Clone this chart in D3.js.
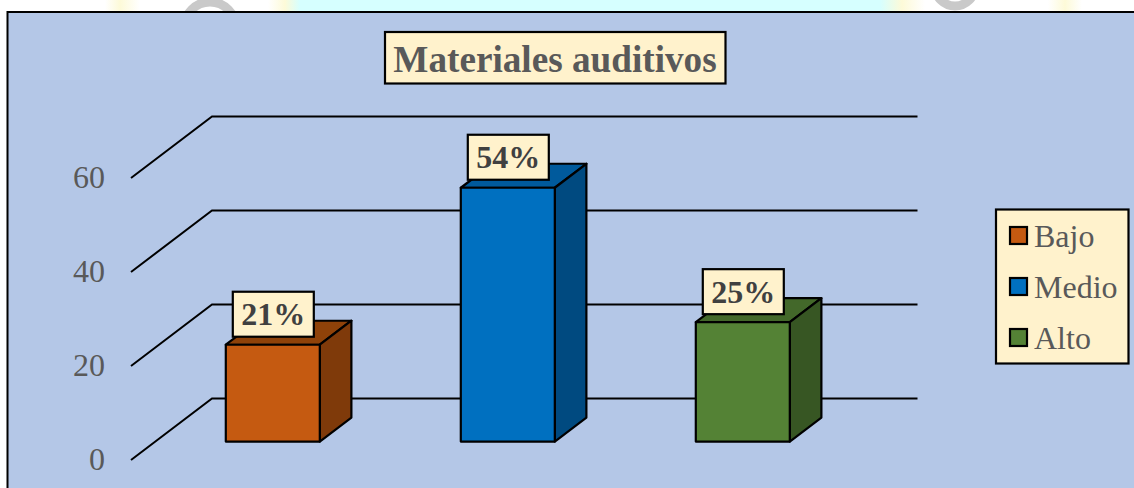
<!DOCTYPE html>
<html>
<head>
<meta charset="utf-8">
<script src="https://cdn.jsdelivr.net/npm/d3@7"></script>
<style>
  html, body { margin: 0; padding: 0; background: #fff; overflow: hidden; }
  svg { display: block; }
  text { font-family: "Liberation Serif", serif; }
</style>
</head>
<body>
<svg id="chart" width="1134" height="488"></svg>
<script>
const title = "Materiales auditivos";
const categories = ["Bajo", "Medio", "Alto"];
const values = [20.6, 54, 25.4];
const valueLabels = ["21%", "54%", "25%"];
const frontColors = ["#C55A11", "#0070C0", "#548235"];
const topColors = ["#8F4209", "#005A9C", "#43682A"];
const sideColors = ["#7F3A0A", "#004A80", "#375623"];
const yTicks = [0, 20, 40, 60];

let svg = d3.select("#chart");

// depth of the fake 3d floor
const depthX = 81;
const depthY = 61.5;
const barZ0 = 0.3;
const barZ1 = 0.69;

let x = d3.scaleBand()
  .domain(categories)
  .range([131, 836])
  .paddingInner(0.6)
  .paddingOuter(0.3);

let y = d3.scaleLinear()
  .domain([0, 60])
  .range([460, 178]);

let project = function(px, value, z) {
  return [px + z * depthX, y(value) - z * depthY];
};

let path = d3.line();

// page behind the chart, only a strip of it shows above the border
let defs = svg.append("defs");
let strip = defs.append("linearGradient").attr("id", "strip");
[[0, "#ffffff"], [105, "#ffffff"], [120, "#fdfad8"], [140, "#ffffff"], [268, "#ffffff"], [285, "#fdfad8"],
 [300, "#d6ffff"], [880, "#d6ffff"], [902, "#fdfad8"], [925, "#ffffff"], [1048, "#ffffff"], [1065, "#fdfad8"],
 [1082, "#ffffff"], [1134, "#ffffff"]].forEach(function(s) {
  strip.append("stop").attr("offset", s[0] / 1134).attr("stop-color", s[1]);
});
svg.append("rect").attr("width", 1134).attr("height", 12).attr("fill", "url(#strip)");
svg.append("circle").attr("cx", 210).attr("cy", 28).attr("r", 26)
  .attr("fill", "#fff").attr("stroke", "#c9c9c9").attr("stroke-width", 9);
svg.append("circle").attr("cx", 955).attr("cy", -14).attr("r", 20)
  .attr("fill", "#fff").attr("stroke", "#c9c9c9").attr("stroke-width", 9);

// chart area
svg.append("rect")
  .attr("x", 7.5).attr("y", 12)
  .attr("width", 1140).attr("height", 490)
  .attr("fill", "#B4C7E7")
  .attr("stroke", "#000")
  .attr("stroke-width", 2);

// grid lines, wall then back
svg.append("g").selectAll("path")
  .data(yTicks)
  .join("path")
  .attr("d", d => path([project(131, d, 0), project(131, d, 1), project(836.5, d, 1)]))
  .attr("fill", "none")
  .attr("stroke", "#000")
  .attr("stroke-width", 2);

// y axis, only the labels
let yAxis = d3.axisLeft(y).tickValues(yTicks).tickSize(0).tickPadding(26);
let yGroup = svg.append("g").attr("transform", "translate(131,-1)").call(yAxis);
yGroup.select(".domain").remove();
yGroup.selectAll("text")
  .attr("font-family", "Liberation Serif")
  .attr("font-size", 32)
  .attr("fill", "#595959");

// bars
let bars = svg.append("g").selectAll("g")
  .data(categories)
  .join("g");

let barFace = function(cat, i, corners) {
  return path(corners.map(c => project(x(cat) + c[0] * x.bandwidth(), c[1] * values[i], c[2]))) + "Z";
};

bars.append("path")
  .attr("d", (d, i) => barFace(d, i, [[0, 1, barZ0], [1, 1, barZ0], [1, 1, barZ1], [0, 1, barZ1]]))
  .attr("fill", (d, i) => topColors[i]);
bars.append("path")
  .attr("d", (d, i) => barFace(d, i, [[1, 0, barZ0], [1, 1, barZ0], [1, 1, barZ1], [1, 0, barZ1]]))
  .attr("fill", (d, i) => sideColors[i]);
bars.append("path")
  .attr("d", (d, i) => barFace(d, i, [[0, 0, barZ0], [1, 0, barZ0], [1, 1, barZ0], [0, 1, barZ0]]))
  .attr("fill", (d, i) => frontColors[i]);
bars.selectAll("path")
  .attr("stroke", "#000")
  .attr("stroke-width", 2.2)
  .attr("stroke-linejoin", "round");

// value labels sit centered over the front face
const labelW = 81;
const labelH = 45;

let labelX = function(cat) {
  return project(x(cat) + x.bandwidth() / 2, 0, barZ0)[0];
};
let labelBottom = function(i) {
  return project(0, values[i], barZ0)[1] - 8;
};

bars.append("rect")
  .attr("x", d => labelX(d) - labelW / 2 + 0.5)
  .attr("y", (d, i) => labelBottom(i) - labelH)
  .attr("width", labelW)
  .attr("height", labelH)
  .attr("fill", "#FFF2CC")
  .attr("stroke", "#000")
  .attr("stroke-width", 2.2);

bars.append("text")
  .attr("x", d => labelX(d) + 0.5)
  .attr("y", (d, i) => labelBottom(i) - labelH / 2 + 11)
  .attr("text-anchor", "middle")
  .attr("font-size", 32)
  .attr("font-weight", "bold")
  .attr("fill", "#404040")
  .text((d, i) => valueLabels[i]);

// title
svg.append("rect")
  .attr("x", 385).attr("y", 32)
  .attr("width", 340.5).attr("height", 51.5)
  .attr("fill", "#FFF2CC")
  .attr("stroke", "#000")
  .attr("stroke-width", 2.2);

svg.append("text")
  .attr("x", 555).attr("y", 71.5)
  .attr("text-anchor", "middle")
  .attr("font-size", 37.2)
  .attr("font-weight", "bold")
  .attr("fill", "#595959")
  .text(title);

// legend
svg.append("rect")
  .attr("x", 996).attr("y", 209.5)
  .attr("width", 132.5).attr("height", 154)
  .attr("fill", "#FFF2CC")
  .attr("stroke", "#000")
  .attr("stroke-width", 2.2);

let legendY = d3.scalePoint()
  .domain(categories)
  .range([235.5, 337.5]);

let legend = svg.append("g").selectAll("g")
  .data(categories)
  .join("g")
  .attr("transform", d => "translate(1010," + legendY(d) + ")");

legend.append("rect")
  .attr("y", -8.5)
  .attr("width", 17)
  .attr("height", 17)
  .attr("fill", (d, i) => frontColors[i])
  .attr("stroke", "#000")
  .attr("stroke-width", 2.2);

legend.append("text")
  .attr("x", 24)
  .attr("y", 11)
  .attr("font-size", 32)
  .attr("fill", "#595959")
  .text(d => d);
</script>
</body>
</html>
